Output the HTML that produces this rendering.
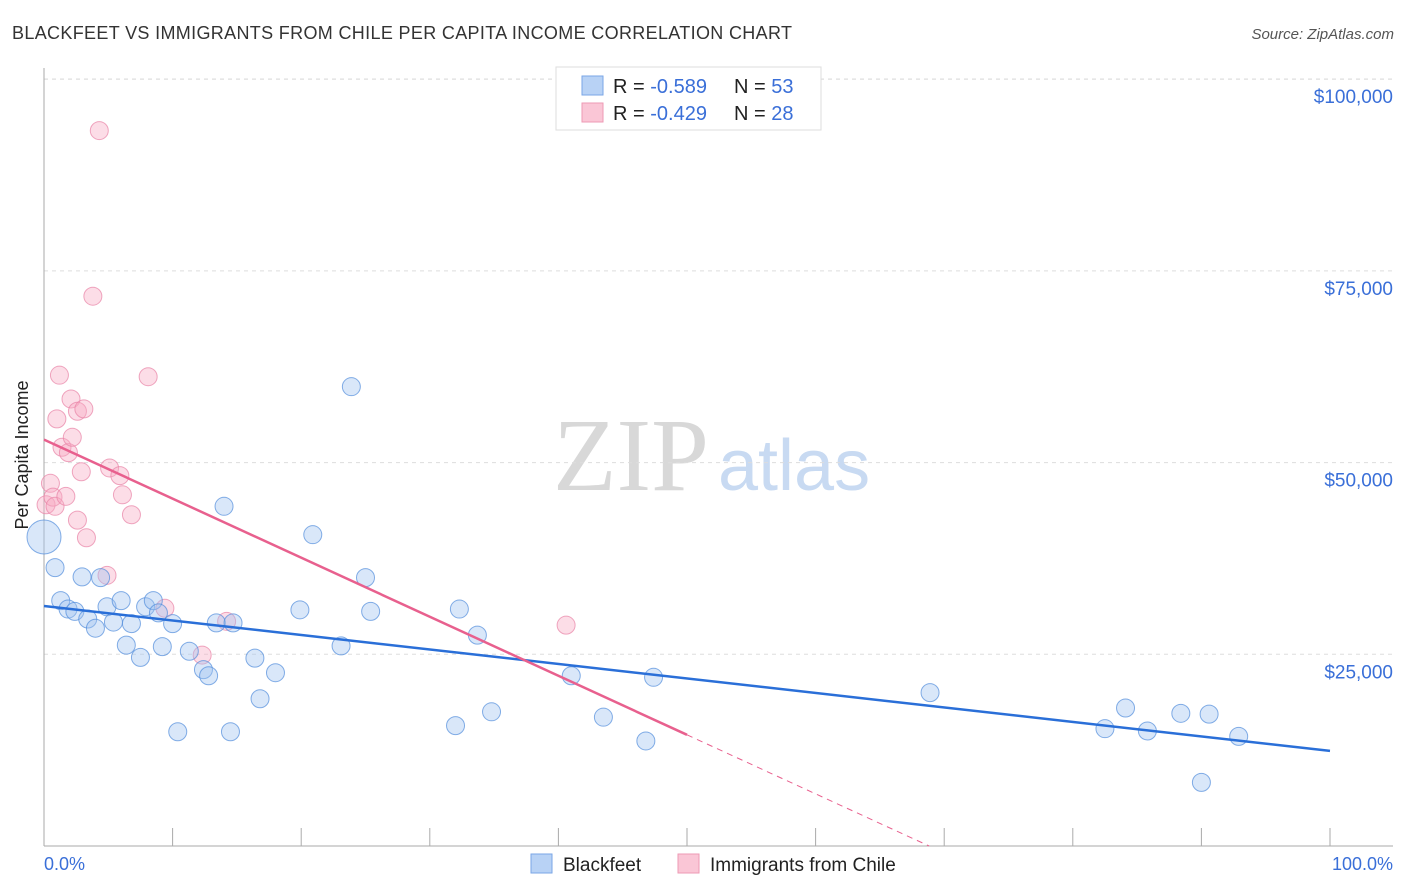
<!DOCTYPE html>
<html><head><meta charset="utf-8"><style>
body{margin:0;background:#fff;font-family:"Liberation Sans",sans-serif;}
svg{display:block}
</style></head><body>
<svg id="chart" width="1406" height="892">
<text x="12" y="39" font-size="18" fill="#333" textLength="780">BLACKFEET VS IMMIGRANTS FROM CHILE PER CAPITA INCOME CORRELATION CHART</text>
<text x="1394" y="39" font-size="15" fill="#555" text-anchor="end" font-style="italic">Source: ZipAtlas.com</text>
<g>
<text x="553" y="490" font-size="104" font-family="Liberation Serif,serif" fill="#d8d8d8">ZIP</text>
<text x="718" y="490" font-size="72" fill="#c8daf2">atlas</text>
</g>
<g id="grid"></g>
<line x1="44" y1="68" x2="44" y2="846" stroke="#aaa"/>
<line x1="44" y1="846" x2="1393" y2="846" stroke="#aaa"/>
<text x="28" y="455" font-size="18" fill="#222" text-anchor="middle" transform="rotate(-90 28 455)">Per Capita Income</text>
<text x="44" y="870" font-size="18" fill="#3a6fd8">0.0%</text>
<text x="1393" y="870" font-size="18" fill="#3a6fd8" text-anchor="end">100.0%</text>
<g id="pts"></g>
<g id="lines"></g>
<g>
<rect x="556" y="67" width="265" height="63" fill="#fff" stroke="#ddd"/>
<rect x="582" y="76" width="21" height="19" fill="#b8d2f5" stroke="#7aa6e6"/>
<rect x="582" y="103" width="21" height="19" fill="#fac6d6" stroke="#ee9ab4"/>
<text x="613" y="93" font-size="20" fill="#222">R = <tspan fill="#3a6fd8">-0.589</tspan><tspan x="734">N = </tspan><tspan fill="#3a6fd8">53</tspan></text>
<text x="613" y="120" font-size="20" fill="#222">R = <tspan fill="#3a6fd8">-0.429</tspan><tspan x="734">N = </tspan><tspan fill="#3a6fd8">28</tspan></text>
</g>
<g>
<rect x="531" y="854" width="21" height="19" fill="#b8d2f5" stroke="#7aa6e6"/>
<text x="563" y="871" font-size="19" fill="#222">Blackfeet</text>
<rect x="678" y="854" width="21" height="19" fill="#fac6d6" stroke="#ee9ab4"/>
<text x="710" y="871" font-size="19" fill="#222">Immigrants from Chile</text>
</g>
</svg>
<script>
const yTicks=[25000,50000,75000,100000];
const yTickLabels=["$25,000","$50,000","$75,000","$100,000"];
const blueX=[0,0.86,1.3,1.87,2.4,2.96,3.4,4.0,4.4,4.9,5.4,6.0,6.4,6.8,7.5,7.9,8.5,8.9,9.2,10.0,10.4,11.3,12.4,12.8,13.4,14.0,14.5,14.7,16.4,16.8,18.0,19.9,20.9,23.1,23.9,25.0,25.4,32.0,32.3,33.7,34.8,41.0,43.5,46.8,47.4,68.9,82.5,84.1,85.8,88.4,90.0,90.6,92.9];
const blueY=[40.3,36.3,32.0,30.9,30.6,35.1,29.6,28.4,35.0,31.2,29.2,32.0,26.2,29.0,24.6,31.2,32.0,30.4,26.0,29.0,14.9,25.4,23.0,22.2,29.1,44.3,14.9,29.1,24.5,19.2,22.6,30.8,40.6,26.1,59.9,35.0,30.6,15.7,30.9,27.5,17.5,22.2,16.8,13.7,22.0,20.0,15.3,18.0,15.0,17.3,8.3,17.2,14.3];
const pinkX=[0.16,0.5,0.7,0.86,1.0,1.2,1.4,1.7,1.9,2.1,2.2,2.6,2.6,2.9,3.1,3.3,3.8,4.3,4.9,5.1,5.9,6.1,6.8,8.1,9.4,12.3,14.2,40.6];
const pinkY=[44.5,47.3,45.5,44.3,55.7,61.4,52.0,45.6,51.3,58.3,53.3,56.7,42.5,48.8,57.0,40.2,71.7,93.3,35.3,49.3,48.3,45.8,43.2,61.2,31.0,24.9,29.3,28.8];
const blueFit=[31.3,12.4]; // y at x=0 and x=100 (thousands)
const pinkFit=[53.0,14.5,50]; // y at x=0, y at x=50, solid end x
const NS="http://www.w3.org/2000/svg";
const sx=v=>44+v*12.86;
const sy=v=>846-v*7.668;
function el(t,a,p){const e=document.createElementNS(NS,t);for(const k in a)e.setAttribute(k,a[k]);p.appendChild(e);return e;}
const grid=document.getElementById('grid');
yTicks.forEach((t,i)=>{
 const g=el('line',{x1:44,x2:1393,y1:sy(t/1000),y2:sy(t/1000),stroke:'#ddd','stroke-dasharray':'4,4'},grid);
 
 
 const tx=el('text',{x:1393,y:sy(t/1000)+24,'font-size':19,fill:'#3a6fd8','text-anchor':'end'},grid);
 tx.textContent=yTickLabels[i];
 
 
});
el('line',{x1:44,x2:1393,y1:79,y2:79,stroke:'#ddd','stroke-dasharray':'4,4'},grid);
for(let i=1;i<=10;i++){
 const tk=el('line',{x1:sx(i*10),x2:sx(i*10),y1:828,y2:846,stroke:'#aaa'},grid);
 
 
}
const pts=document.getElementById('pts');
pinkX.forEach((x,i)=>{
 const c=el('circle',{cx:sx(x),cy:sy(pinkY[i]),r:9,fill:'rgba(247,170,195,0.4)',stroke:'rgba(232,130,165,0.7)'},pts);
 
 
});
blueX.forEach((x,i)=>{
 const c=el('circle',{cx:sx(x),cy:sy(blueY[i]),r:i===0?17:9,fill:'rgba(160,195,240,0.4)',stroke:'rgba(80,140,220,0.7)'},pts);
 
 
});
const lines=document.getElementById('lines');
const bl=el('line',{x1:sx(0),y1:sy(blueFit[0]),x2:sx(100),y2:sy(blueFit[1]),stroke:'#2a6fd8','stroke-width':2.5},lines);


const slope=(pinkFit[1]-pinkFit[0])/50;
const pe=pinkFit[2];
const pl=el('line',{x1:sx(0),y1:sy(pinkFit[0]),x2:sx(pe),y2:sy(pinkFit[0]+slope*pe),stroke:'#e8608e','stroke-width':2.5},lines);


const xz=-pinkFit[0]/slope;
const pd=el('line',{x1:sx(pe),y1:sy(pinkFit[0]+slope*pe),x2:sx(xz),y2:sy(0),stroke:'#e8608e','stroke-width':1,'stroke-dasharray':'6,5'},lines);


</script>
</body></html>
